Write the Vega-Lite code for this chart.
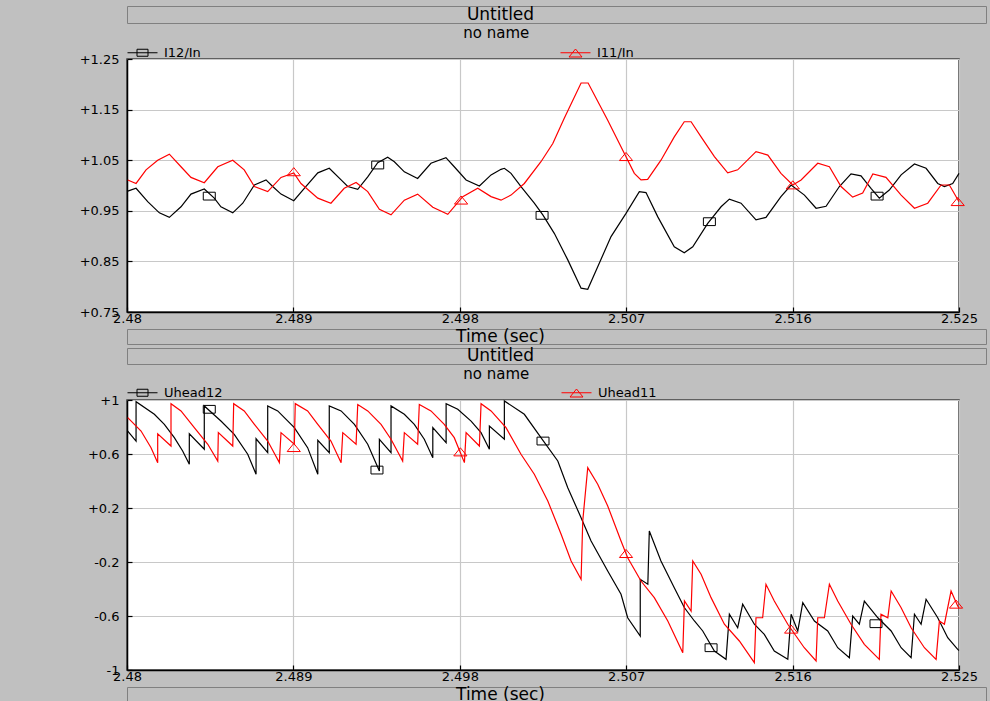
{
  "$schema": "https://vega.github.io/schema/vega-lite/v6.json",
  "background": "#c0c0c0",
  "padding": {"left": 14, "top": 5, "right": 3, "bottom": 0},
  "spacing": 1,
  "datasets": {
    "current": [
      {"t": 2.48004, "v": 0.989, "s": "I12/In"}, {"t": 2.48049, "v": 0.9945, "s": "I12/In"}, {"t": 2.48112, "v": 0.968, "s": "I12/In"},
      {"t": 2.48175, "v": 0.946, "s": "I12/In"}, {"t": 2.48229, "v": 0.937, "s": "I12/In"}, {"t": 2.48292, "v": 0.958, "s": "I12/In"},
      {"t": 2.48346, "v": 0.983, "s": "I12/In"}, {"t": 2.48418, "v": 0.993, "s": "I12/In"}, {"t": 2.48472, "v": 0.975, "s": "I12/In"},
      {"t": 2.48508, "v": 0.958, "s": "I12/In"}, {"t": 2.48572, "v": 0.946, "s": "I12/In"}, {"t": 2.48626, "v": 0.965, "s": "I12/In"},
      {"t": 2.48689, "v": 1.001, "s": "I12/In"}, {"t": 2.48752, "v": 1.011, "s": "I12/In"}, {"t": 2.48788, "v": 0.998, "s": "I12/In"},
      {"t": 2.48833, "v": 0.983, "s": "I12/In"}, {"t": 2.48902, "v": 0.970, "s": "I12/In"}, {"t": 2.48959, "v": 0.9945, "s": "I12/In"},
      {"t": 2.49032, "v": 1.025, "s": "I12/In"}, {"t": 2.49094, "v": 1.034, "s": "I12/In"}, {"t": 2.49158, "v": 1.011, "s": "I12/In"},
      {"t": 2.49194, "v": 0.998, "s": "I12/In"}, {"t": 2.49248, "v": 0.9925, "s": "I12/In"}, {"t": 2.49302, "v": 1.017, "s": "I12/In"},
      {"t": 2.49356, "v": 1.045, "s": "I12/In"}, {"t": 2.49410, "v": 1.056, "s": "I12/In"}, {"t": 2.49446, "v": 1.047, "s": "I12/In"},
      {"t": 2.49500, "v": 1.027, "s": "I12/In"}, {"t": 2.49572, "v": 1.014, "s": "I12/In"}, {"t": 2.49644, "v": 1.044, "s": "I12/In"},
      {"t": 2.49725, "v": 1.055, "s": "I12/In"}, {"t": 2.49770, "v": 1.037, "s": "I12/In"}, {"t": 2.49834, "v": 1.011, "s": "I12/In"},
      {"t": 2.49906, "v": 0.999, "s": "I12/In"}, {"t": 2.49969, "v": 1.021, "s": "I12/In"}, {"t": 2.50023, "v": 1.032, "s": "I12/In"},
      {"t": 2.50041, "v": 1.034, "s": "I12/In"}, {"t": 2.50077, "v": 1.024, "s": "I12/In"}, {"t": 2.50131, "v": 0.998, "s": "I12/In"},
      {"t": 2.50203, "v": 0.965, "s": "I12/In"}, {"t": 2.50249, "v": 0.942, "s": "I12/In"}, {"t": 2.50311, "v": 0.9055, "s": "I12/In"},
      {"t": 2.50384, "v": 0.853, "s": "I12/In"}, {"t": 2.50456, "v": 0.797, "s": "I12/In"}, {"t": 2.50492, "v": 0.795, "s": "I12/In"},
      {"t": 2.50546, "v": 0.8395, "s": "I12/In"}, {"t": 2.50618, "v": 0.899, "s": "I12/In"}, {"t": 2.50699, "v": 0.945, "s": "I12/In"},
      {"t": 2.50771, "v": 0.988, "s": "I12/In"}, {"t": 2.50807, "v": 0.986, "s": "I12/In"}, {"t": 2.50871, "v": 0.938, "s": "I12/In"},
      {"t": 2.50960, "v": 0.879, "s": "I12/In"}, {"t": 2.51014, "v": 0.867, "s": "I12/In"}, {"t": 2.51060, "v": 0.879, "s": "I12/In"},
      {"t": 2.51141, "v": 0.925, "s": "I12/In"}, {"t": 2.51213, "v": 0.958, "s": "I12/In"}, {"t": 2.51258, "v": 0.973, "s": "I12/In"},
      {"t": 2.51321, "v": 0.965, "s": "I12/In"}, {"t": 2.51402, "v": 0.932, "s": "I12/In"}, {"t": 2.51456, "v": 0.937, "s": "I12/In"},
      {"t": 2.51537, "v": 0.978, "s": "I12/In"}, {"t": 2.51592, "v": 1.001, "s": "I12/In"}, {"t": 2.51664, "v": 0.981, "s": "I12/In"},
      {"t": 2.51727, "v": 0.955, "s": "I12/In"}, {"t": 2.51781, "v": 0.959, "s": "I12/In"}, {"t": 2.51853, "v": 0.998, "s": "I12/In"},
      {"t": 2.51916, "v": 1.023, "s": "I12/In"}, {"t": 2.51970, "v": 1.019, "s": "I12/In"}, {"t": 2.52024, "v": 0.9945, "s": "I12/In"},
      {"t": 2.52069, "v": 0.975, "s": "I12/In"}, {"t": 2.52123, "v": 0.991, "s": "I12/In"}, {"t": 2.52187, "v": 1.021, "s": "I12/In"},
      {"t": 2.52259, "v": 1.0425, "s": "I12/In"}, {"t": 2.52322, "v": 1.034, "s": "I12/In"}, {"t": 2.52385, "v": 1.004, "s": "I12/In"},
      {"t": 2.52421, "v": 0.998, "s": "I12/In"}, {"t": 2.52466, "v": 1.004, "s": "I12/In"}, {"t": 2.52500, "v": 1.024, "s": "I12/In"},

      {"t": 2.48004, "v": 1.011, "s": "I11/In"}, {"t": 2.48049, "v": 1.004, "s": "I11/In"}, {"t": 2.48103, "v": 1.031, "s": "I11/In"},
      {"t": 2.48166, "v": 1.050, "s": "I11/In"}, {"t": 2.48229, "v": 1.062, "s": "I11/In"}, {"t": 2.48292, "v": 1.037, "s": "I11/In"},
      {"t": 2.48346, "v": 1.016, "s": "I11/In"}, {"t": 2.48418, "v": 1.0055, "s": "I11/In"}, {"t": 2.48491, "v": 1.037, "s": "I11/In"},
      {"t": 2.48572, "v": 1.050, "s": "I11/In"}, {"t": 2.48634, "v": 1.031, "s": "I11/In"}, {"t": 2.48689, "v": 0.998, "s": "I11/In"},
      {"t": 2.48761, "v": 0.988, "s": "I11/In"}, {"t": 2.48833, "v": 1.016, "s": "I11/In"}, {"t": 2.48902, "v": 1.025, "s": "I11/In"},
      {"t": 2.48941, "v": 1.004, "s": "I11/In"}, {"t": 2.49032, "v": 0.975, "s": "I11/In"}, {"t": 2.49103, "v": 0.965, "s": "I11/In"},
      {"t": 2.49175, "v": 0.9945, "s": "I11/In"}, {"t": 2.49239, "v": 1.006, "s": "I11/In"}, {"t": 2.49302, "v": 0.988, "s": "I11/In"},
      {"t": 2.49365, "v": 0.953, "s": "I11/In"}, {"t": 2.49428, "v": 0.942, "s": "I11/In"}, {"t": 2.49500, "v": 0.971, "s": "I11/In"},
      {"t": 2.49572, "v": 0.983, "s": "I11/In"}, {"t": 2.49654, "v": 0.957, "s": "I11/In"}, {"t": 2.49735, "v": 0.943, "s": "I11/In"},
      {"t": 2.49816, "v": 0.978, "s": "I11/In"}, {"t": 2.49897, "v": 0.9945, "s": "I11/In"}, {"t": 2.49969, "v": 0.978, "s": "I11/In"},
      {"t": 2.50023, "v": 0.971, "s": "I11/In"}, {"t": 2.50077, "v": 0.981, "s": "I11/In"}, {"t": 2.50149, "v": 1.004, "s": "I11/In"},
      {"t": 2.50239, "v": 1.047, "s": "I11/In"}, {"t": 2.50303, "v": 1.083, "s": "I11/In"}, {"t": 2.50365, "v": 1.133, "s": "I11/In"},
      {"t": 2.50456, "v": 1.2026, "s": "I11/In"}, {"t": 2.50494, "v": 1.2026, "s": "I11/In"}, {"t": 2.50600, "v": 1.129, "s": "I11/In"},
      {"t": 2.50663, "v": 1.083, "s": "I11/In"}, {"t": 2.50699, "v": 1.057, "s": "I11/In"}, {"t": 2.50744, "v": 1.024, "s": "I11/In"},
      {"t": 2.50780, "v": 1.011, "s": "I11/In"}, {"t": 2.50816, "v": 1.012, "s": "I11/In"}, {"t": 2.50888, "v": 1.050, "s": "I11/In"},
      {"t": 2.50960, "v": 1.096, "s": "I11/In"}, {"t": 2.51014, "v": 1.126, "s": "I11/In"}, {"t": 2.51051, "v": 1.126, "s": "I11/In"},
      {"t": 2.51105, "v": 1.096, "s": "I11/In"}, {"t": 2.51177, "v": 1.057, "s": "I11/In"}, {"t": 2.51249, "v": 1.025, "s": "I11/In"},
      {"t": 2.51303, "v": 1.031, "s": "I11/In"}, {"t": 2.51402, "v": 1.067, "s": "I11/In"}, {"t": 2.51466, "v": 1.060, "s": "I11/In"},
      {"t": 2.51537, "v": 1.024, "s": "I11/In"}, {"t": 2.51601, "v": 1.001, "s": "I11/In"}, {"t": 2.51646, "v": 1.011, "s": "I11/In"},
      {"t": 2.51736, "v": 1.044, "s": "I11/In"}, {"t": 2.51799, "v": 1.037, "s": "I11/In"}, {"t": 2.51862, "v": 0.998, "s": "I11/In"},
      {"t": 2.51925, "v": 0.977, "s": "I11/In"}, {"t": 2.51979, "v": 0.985, "s": "I11/In"}, {"t": 2.52034, "v": 1.023, "s": "I11/In"},
      {"t": 2.52105, "v": 1.016, "s": "I11/In"}, {"t": 2.52187, "v": 0.981, "s": "I11/In"}, {"t": 2.52259, "v": 0.955, "s": "I11/In"},
      {"t": 2.52331, "v": 0.965, "s": "I11/In"}, {"t": 2.52403, "v": 1.001, "s": "I11/In"}, {"t": 2.52448, "v": 1.001, "s": "I11/In"},
      {"t": 2.52500, "v": 0.968, "s": "I11/In"}
    ],
    "currentMarkers": [
      {"t": 2.48445, "v": 0.979, "s": "I12/In"}, {"t": 2.49356, "v": 1.0405, "s": "I12/In"}, {"t": 2.50245, "v": 0.941, "s": "I12/In"},
      {"t": 2.51150, "v": 0.9285, "s": "I12/In"}, {"t": 2.52057, "v": 0.979, "s": "I12/In"},
      {"t": 2.48902, "v": 1.027, "s": "I11/In"}, {"t": 2.49807, "v": 0.971, "s": "I11/In"}, {"t": 2.50699, "v": 1.057, "s": "I11/In"},
      {"t": 2.51601, "v": 1.001, "s": "I11/In"}, {"t": 2.52493, "v": 0.968, "s": "I11/In"}
    ],
    "voltage": [
      {"t": 2.48004, "v": 0.770, "s": "Uhead12"}, {"t": 2.48049, "v": 0.696, "s": "Uhead12"}, {"t": 2.48049, "v": 0.987, "s": "Uhead12"},
      {"t": 2.48148, "v": 0.894, "s": "Uhead12"}, {"t": 2.48202, "v": 0.820, "s": "Uhead12"}, {"t": 2.48256, "v": 0.721, "s": "Uhead12"},
      {"t": 2.48301, "v": 0.622, "s": "Uhead12"}, {"t": 2.48337, "v": 0.524, "s": "Uhead12"}, {"t": 2.48337, "v": 0.750, "s": "Uhead12"},
      {"t": 2.48418, "v": 0.635, "s": "Uhead12"}, {"t": 2.48418, "v": 0.956, "s": "Uhead12"}, {"t": 2.48508, "v": 0.844, "s": "Uhead12"},
      {"t": 2.48580, "v": 0.746, "s": "Uhead12"}, {"t": 2.48653, "v": 0.598, "s": "Uhead12"}, {"t": 2.48698, "v": 0.450, "s": "Uhead12"},
      {"t": 2.48698, "v": 0.713, "s": "Uhead12"}, {"t": 2.48761, "v": 0.610, "s": "Uhead12"}, {"t": 2.48761, "v": 0.956, "s": "Uhead12"},
      {"t": 2.48815, "v": 0.919, "s": "Uhead12"}, {"t": 2.48905, "v": 0.795, "s": "Uhead12"}, {"t": 2.48977, "v": 0.647, "s": "Uhead12"},
      {"t": 2.49032, "v": 0.450, "s": "Uhead12"}, {"t": 2.49032, "v": 0.701, "s": "Uhead12"}, {"t": 2.49094, "v": 0.610, "s": "Uhead12"},
      {"t": 2.49094, "v": 0.956, "s": "Uhead12"}, {"t": 2.49158, "v": 0.919, "s": "Uhead12"}, {"t": 2.49230, "v": 0.820, "s": "Uhead12"},
      {"t": 2.49302, "v": 0.672, "s": "Uhead12"}, {"t": 2.49365, "v": 0.474, "s": "Uhead12"}, {"t": 2.49365, "v": 0.709, "s": "Uhead12"},
      {"t": 2.49428, "v": 0.610, "s": "Uhead12"}, {"t": 2.49428, "v": 0.956, "s": "Uhead12"}, {"t": 2.49500, "v": 0.894, "s": "Uhead12"},
      {"t": 2.49554, "v": 0.820, "s": "Uhead12"}, {"t": 2.49608, "v": 0.709, "s": "Uhead12"}, {"t": 2.49654, "v": 0.573, "s": "Uhead12"},
      {"t": 2.49654, "v": 0.795, "s": "Uhead12"}, {"t": 2.49726, "v": 0.684, "s": "Uhead12"}, {"t": 2.49726, "v": 0.973, "s": "Uhead12"},
      {"t": 2.49789, "v": 0.931, "s": "Uhead12"}, {"t": 2.49861, "v": 0.844, "s": "Uhead12"}, {"t": 2.49915, "v": 0.758, "s": "Uhead12"},
      {"t": 2.49960, "v": 0.635, "s": "Uhead12"}, {"t": 2.49960, "v": 0.807, "s": "Uhead12"}, {"t": 2.50041, "v": 0.709, "s": "Uhead12"},
      {"t": 2.50041, "v": 0.993, "s": "Uhead12"}, {"t": 2.50149, "v": 0.894, "s": "Uhead12"}, {"t": 2.50239, "v": 0.721, "s": "Uhead12"},
      {"t": 2.50330, "v": 0.548, "s": "Uhead12"}, {"t": 2.50384, "v": 0.350, "s": "Uhead12"}, {"t": 2.50456, "v": 0.128, "s": "Uhead12"},
      {"t": 2.50510, "v": -0.044, "s": "Uhead12"}, {"t": 2.50600, "v": -0.267, "s": "Uhead12"}, {"t": 2.50672, "v": -0.439, "s": "Uhead12"},
      {"t": 2.50708, "v": -0.613, "s": "Uhead12"}, {"t": 2.50776, "v": -0.748, "s": "Uhead12"}, {"t": 2.50776, "v": -0.328, "s": "Uhead12"},
      {"t": 2.50817, "v": -0.365, "s": "Uhead12"}, {"t": 2.50825, "v": 0.030, "s": "Uhead12"}, {"t": 2.50888, "v": -0.193, "s": "Uhead12"},
      {"t": 2.50960, "v": -0.390, "s": "Uhead12"}, {"t": 2.51015, "v": -0.539, "s": "Uhead12"}, {"t": 2.51069, "v": -0.637, "s": "Uhead12"},
      {"t": 2.51114, "v": -0.711, "s": "Uhead12"}, {"t": 2.51177, "v": -0.859, "s": "Uhead12"}, {"t": 2.51240, "v": -0.921, "s": "Uhead12"},
      {"t": 2.51258, "v": -0.587, "s": "Uhead12"}, {"t": 2.51303, "v": -0.687, "s": "Uhead12"}, {"t": 2.51330, "v": -0.513, "s": "Uhead12"},
      {"t": 2.51393, "v": -0.661, "s": "Uhead12"}, {"t": 2.51447, "v": -0.736, "s": "Uhead12"}, {"t": 2.51501, "v": -0.859, "s": "Uhead12"},
      {"t": 2.51574, "v": -0.921, "s": "Uhead12"}, {"t": 2.51592, "v": -0.587, "s": "Uhead12"}, {"t": 2.51628, "v": -0.711, "s": "Uhead12"},
      {"t": 2.51655, "v": -0.501, "s": "Uhead12"}, {"t": 2.51718, "v": -0.637, "s": "Uhead12"}, {"t": 2.51790, "v": -0.711, "s": "Uhead12"},
      {"t": 2.51844, "v": -0.835, "s": "Uhead12"}, {"t": 2.51907, "v": -0.909, "s": "Uhead12"}, {"t": 2.51925, "v": -0.600, "s": "Uhead12"},
      {"t": 2.51961, "v": -0.661, "s": "Uhead12"}, {"t": 2.51988, "v": -0.489, "s": "Uhead12"}, {"t": 2.52061, "v": -0.613, "s": "Uhead12"},
      {"t": 2.52133, "v": -0.711, "s": "Uhead12"}, {"t": 2.52187, "v": -0.835, "s": "Uhead12"}, {"t": 2.52241, "v": -0.909, "s": "Uhead12"},
      {"t": 2.52259, "v": -0.587, "s": "Uhead12"}, {"t": 2.52295, "v": -0.661, "s": "Uhead12"}, {"t": 2.52322, "v": -0.476, "s": "Uhead12"},
      {"t": 2.52385, "v": -0.613, "s": "Uhead12"}, {"t": 2.52439, "v": -0.761, "s": "Uhead12"}, {"t": 2.52493, "v": -0.847, "s": "Uhead12"},
      {"t": 2.52500, "v": -0.855, "s": "Uhead12"},

      {"t": 2.48004, "v": 0.869, "s": "Uhead11"}, {"t": 2.48076, "v": 0.770, "s": "Uhead11"}, {"t": 2.48130, "v": 0.647, "s": "Uhead11"},
      {"t": 2.48166, "v": 0.536, "s": "Uhead11"}, {"t": 2.48166, "v": 0.750, "s": "Uhead11"}, {"t": 2.48238, "v": 0.659, "s": "Uhead11"},
      {"t": 2.48238, "v": 0.973, "s": "Uhead11"}, {"t": 2.48292, "v": 0.919, "s": "Uhead11"}, {"t": 2.48364, "v": 0.795, "s": "Uhead11"},
      {"t": 2.48437, "v": 0.672, "s": "Uhead11"}, {"t": 2.48491, "v": 0.548, "s": "Uhead11"}, {"t": 2.48494, "v": 0.758, "s": "Uhead11"},
      {"t": 2.48572, "v": 0.659, "s": "Uhead11"}, {"t": 2.48577, "v": 0.973, "s": "Uhead11"}, {"t": 2.48634, "v": 0.919, "s": "Uhead11"},
      {"t": 2.48689, "v": 0.820, "s": "Uhead11"}, {"t": 2.48761, "v": 0.696, "s": "Uhead11"}, {"t": 2.48824, "v": 0.536, "s": "Uhead11"},
      {"t": 2.48833, "v": 0.758, "s": "Uhead11"}, {"t": 2.48905, "v": 0.672, "s": "Uhead11"}, {"t": 2.48910, "v": 0.973, "s": "Uhead11"},
      {"t": 2.48977, "v": 0.919, "s": "Uhead11"}, {"t": 2.49032, "v": 0.820, "s": "Uhead11"}, {"t": 2.49103, "v": 0.696, "s": "Uhead11"},
      {"t": 2.49158, "v": 0.536, "s": "Uhead11"}, {"t": 2.49167, "v": 0.758, "s": "Uhead11"}, {"t": 2.49239, "v": 0.672, "s": "Uhead11"},
      {"t": 2.49248, "v": 0.967, "s": "Uhead11"}, {"t": 2.49302, "v": 0.919, "s": "Uhead11"}, {"t": 2.49374, "v": 0.820, "s": "Uhead11"},
      {"t": 2.49428, "v": 0.709, "s": "Uhead11"}, {"t": 2.49491, "v": 0.548, "s": "Uhead11"}, {"t": 2.49500, "v": 0.758, "s": "Uhead11"},
      {"t": 2.49572, "v": 0.672, "s": "Uhead11"}, {"t": 2.49581, "v": 0.967, "s": "Uhead11"}, {"t": 2.49644, "v": 0.919, "s": "Uhead11"},
      {"t": 2.49716, "v": 0.820, "s": "Uhead11"}, {"t": 2.49770, "v": 0.721, "s": "Uhead11"}, {"t": 2.49825, "v": 0.536, "s": "Uhead11"},
      {"t": 2.49834, "v": 0.758, "s": "Uhead11"}, {"t": 2.49906, "v": 0.659, "s": "Uhead11"}, {"t": 2.49915, "v": 0.973, "s": "Uhead11"},
      {"t": 2.49969, "v": 0.919, "s": "Uhead11"}, {"t": 2.50050, "v": 0.795, "s": "Uhead11"}, {"t": 2.50131, "v": 0.598, "s": "Uhead11"},
      {"t": 2.50203, "v": 0.450, "s": "Uhead11"}, {"t": 2.50276, "v": 0.252, "s": "Uhead11"}, {"t": 2.50348, "v": 0.005, "s": "Uhead11"},
      {"t": 2.50402, "v": -0.193, "s": "Uhead11"}, {"t": 2.50456, "v": -0.328, "s": "Uhead11"}, {"t": 2.50465, "v": 0.104, "s": "Uhead11"},
      {"t": 2.50492, "v": 0.499, "s": "Uhead11"}, {"t": 2.50546, "v": 0.376, "s": "Uhead11"}, {"t": 2.50600, "v": 0.215, "s": "Uhead11"},
      {"t": 2.50672, "v": -0.044, "s": "Uhead11"}, {"t": 2.50708, "v": -0.168, "s": "Uhead11"}, {"t": 2.50780, "v": -0.341, "s": "Uhead11"},
      {"t": 2.50852, "v": -0.464, "s": "Uhead11"}, {"t": 2.50925, "v": -0.637, "s": "Uhead11"}, {"t": 2.51006, "v": -0.872, "s": "Uhead11"},
      {"t": 2.51015, "v": -0.489, "s": "Uhead11"}, {"t": 2.51051, "v": -0.563, "s": "Uhead11"}, {"t": 2.51060, "v": -0.193, "s": "Uhead11"},
      {"t": 2.51105, "v": -0.291, "s": "Uhead11"}, {"t": 2.51159, "v": -0.464, "s": "Uhead11"}, {"t": 2.51231, "v": -0.661, "s": "Uhead11"},
      {"t": 2.51312, "v": -0.785, "s": "Uhead11"}, {"t": 2.51393, "v": -0.946, "s": "Uhead11"}, {"t": 2.51402, "v": -0.613, "s": "Uhead11"},
      {"t": 2.51438, "v": -0.613, "s": "Uhead11"}, {"t": 2.51456, "v": -0.365, "s": "Uhead11"}, {"t": 2.51501, "v": -0.489, "s": "Uhead11"},
      {"t": 2.51574, "v": -0.661, "s": "Uhead11"}, {"t": 2.51663, "v": -0.835, "s": "Uhead11"}, {"t": 2.51727, "v": -0.933, "s": "Uhead11"},
      {"t": 2.51736, "v": -0.613, "s": "Uhead11"}, {"t": 2.51772, "v": -0.613, "s": "Uhead11"}, {"t": 2.51799, "v": -0.365, "s": "Uhead11"},
      {"t": 2.51844, "v": -0.489, "s": "Uhead11"}, {"t": 2.51916, "v": -0.661, "s": "Uhead11"}, {"t": 2.51988, "v": -0.810, "s": "Uhead11"},
      {"t": 2.52069, "v": -0.921, "s": "Uhead11"}, {"t": 2.52078, "v": -0.587, "s": "Uhead11"}, {"t": 2.52115, "v": -0.613, "s": "Uhead11"},
      {"t": 2.52133, "v": -0.415, "s": "Uhead11"}, {"t": 2.52187, "v": -0.539, "s": "Uhead11"}, {"t": 2.52241, "v": -0.687, "s": "Uhead11"},
      {"t": 2.52313, "v": -0.835, "s": "Uhead11"}, {"t": 2.52376, "v": -0.921, "s": "Uhead11"}, {"t": 2.52394, "v": -0.637, "s": "Uhead11"},
      {"t": 2.52421, "v": -0.661, "s": "Uhead11"}, {"t": 2.52457, "v": -0.415, "s": "Uhead11"}, {"t": 2.52493, "v": -0.526, "s": "Uhead11"},
      {"t": 2.52500, "v": -0.540, "s": "Uhead11"}
    ],
    "voltageMarkers": [
      {"t": 2.48445, "v": 0.931, "s": "Uhead12"}, {"t": 2.49352, "v": 0.481, "s": "Uhead12"}, {"t": 2.50250, "v": 0.696, "s": "Uhead12"},
      {"t": 2.51159, "v": -0.835, "s": "Uhead12"}, {"t": 2.52051, "v": -0.657, "s": "Uhead12"},
      {"t": 2.48902, "v": 0.647, "s": "Uhead11"}, {"t": 2.49803, "v": 0.615, "s": "Uhead11"}, {"t": 2.50699, "v": -0.138, "s": "Uhead11"},
      {"t": 2.51592, "v": -0.698, "s": "Uhead11"}, {"t": 2.52484, "v": -0.513, "s": "Uhead11"}
    ]
  },
  "resolve": {
    "scale": {"color": "independent", "x": "independent", "y": "independent"},
    "legend": {"color": "independent"}
  },
  "config": {
    "font": "DejaVu Sans",
    "axis": {
      "labelFont": "DejaVu Sans",
      "labelFontSize": 13,
      "labelColor": "#000000",
      "labelFlush": false,
      "labelOverlap": false,
      "grid": true,
      "gridColor": "#c8c8c8",
      "gridWidth": 1.2,
      "domainColor": "#000000",
      "domainWidth": 1.5,
      "tickColor": "#000000",
      "tickWidth": 1.2,
      "tickSize": -5
    },
    "legend": {
      "labelFont": "DejaVu Sans",
      "labelFontSize": 13,
      "labelColor": "#000000",
      "symbolSize": 100,
      "symbolStrokeWidth": 1,
      "symbolOffset": 9,
      "labelOffset": 15,
      "symbolType": "M-3,0H3M-1.1,-0.7H1.1V0.7H-1.1Z"
    },
    "title": {"font": "DejaVu Sans", "fontSize": 15, "fontWeight": "normal", "color": "#000000"},
    "text": {"font": "DejaVu Sans", "fontSize": 17, "color": "#000000", "dx": -56}
  },
  "vconcat": [
    {
      "data": {"values": [{"label": "Untitled"}]},
      "width": 859,
      "height": 17,
      "view": {"fill": "#c0c0c0", "stroke": "#808080", "strokeWidth": 1},
      "mark": {"type": "text"},
      "encoding": {"text": {"field": "label", "type": "nominal"}}
    },
    {
      "width": 832,
      "height": 253,
      "view": {"fill": "#ffffff", "stroke": "#404040", "strokeWidth": 1.5},
      "title": {"text": "no name", "anchor": "middle", "frame": "bounds", "offset": 5},
      "encoding": {
        "x": {
          "field": "t", "type": "quantitative",
          "scale": {"domain": [2.48, 2.525], "nice": false, "zero": false},
          "axis": {"title": null, "values": [2.48, 2.489, 2.498, 2.507, 2.516, 2.525], "format": ".3~f", "labelPadding": 5}
        },
        "y": {
          "field": "v", "type": "quantitative",
          "scale": {"domain": [0.75, 1.25], "nice": false, "zero": false},
          "axis": {
            "title": null, "values": [0.75, 0.85, 0.95, 1.05, 1.15, 1.25],
            "labelExpr": "'+' + format(datum.value, '.2f')",
            "labelPadding": 13, "minExtent": 112, "maxExtent": 112
          }
        },
        "color": {
          "field": "s", "type": "nominal",
          "scale": {"domain": ["I12/In", "I11/In"], "range": ["#000000", "#ff0000"]},
          "legend": {
            "title": null, "orient": "top", "direction": "horizontal", "offset": -1,
            "columnPadding": 357,
            "encode": {"symbols": {"update": {
              "shape": {"signal": "datum.index === 0 ? 'M-3,0H3M-1.1,-0.7H1.1V0.7H-1.1Z' : 'M-3,0H3M0,-0.75L1.3,0.85H-1.3Z'"},
              "fill": {"value": "transparent"},
              "strokeWidth": {"value": 1},
              "opacity": {"value": 1}
            }}}
          }
        }
      },
      "layer": [
        {
          "data": {"name": "current"},
          "mark": {"type": "line", "strokeWidth": 1.2},
          "encoding": {"order": {"value": null}}
        },
        {
          "data": {"name": "currentMarkers"},
          "transform": [{"filter": "datum.s === 'I12/In'"}],
          "mark": {"type": "point", "shape": "M-1,-0.65H1V0.65H-1Z", "filled": false, "size": 144, "strokeWidth": 1, "opacity": 1}
        },
        {
          "data": {"name": "currentMarkers"},
          "transform": [{"filter": "datum.s === 'I11/In'"}],
          "mark": {"type": "point", "shape": "M0,-0.7L1.1,0.65H-1.1Z", "filled": false, "size": 144, "strokeWidth": 1, "opacity": 1}
        }
      ]
    },
    {
      "data": {"values": [{"label": "Time (sec)"}]},
      "width": 859,
      "height": 15,
      "view": {"fill": "#c0c0c0", "stroke": "#808080", "strokeWidth": 1},
      "mark": {"type": "text"},
      "encoding": {"text": {"field": "label", "type": "nominal"}}
    },
    {
      "data": {"values": [{"label": "Untitled"}]},
      "width": 859,
      "height": 16,
      "view": {"fill": "#c0c0c0", "stroke": "#808080", "strokeWidth": 1},
      "mark": {"type": "text"},
      "encoding": {"text": {"field": "label", "type": "nominal"}}
    },
    {
      "width": 832,
      "height": 270,
      "view": {"fill": "#ffffff", "stroke": "#404040", "strokeWidth": 1.5},
      "title": {"text": "no name", "anchor": "middle", "frame": "bounds", "offset": 4},
      "encoding": {
        "x": {
          "field": "t", "type": "quantitative",
          "scale": {"domain": [2.48, 2.525], "nice": false, "zero": false},
          "axis": {"title": null, "values": [2.48, 2.489, 2.498, 2.507, 2.516, 2.525], "format": ".3~f", "labelPadding": 5}
        },
        "y": {
          "field": "v", "type": "quantitative",
          "scale": {"domain": [-1, 1], "nice": false, "zero": false},
          "axis": {
            "title": null, "values": [-1, -0.6, -0.2, 0.2, 0.6, 1],
            "labelExpr": "(datum.value > 0 ? '+' : '-') + format(abs(datum.value), '~g')",
            "labelPadding": 13, "minExtent": 112, "maxExtent": 112
          }
        },
        "color": {
          "field": "s", "type": "nominal",
          "scale": {"domain": ["Uhead12", "Uhead11"], "range": ["#000000", "#ff0000"]},
          "legend": {
            "title": null, "orient": "top", "direction": "horizontal", "offset": -2,
            "columnPadding": 336,
            "encode": {"symbols": {"update": {
              "shape": {"signal": "datum.index === 0 ? 'M-3,0H3M-1.1,-0.7H1.1V0.7H-1.1Z' : 'M-3,0H3M0,-0.75L1.3,0.85H-1.3Z'"},
              "fill": {"value": "transparent"},
              "strokeWidth": {"value": 1},
              "opacity": {"value": 1}
            }}}
          }
        }
      },
      "layer": [
        {
          "data": {"name": "voltage"},
          "mark": {"type": "line", "strokeWidth": 1.2},
          "encoding": {"order": {"value": null}}
        },
        {
          "data": {"name": "voltageMarkers"},
          "transform": [{"filter": "datum.s === 'Uhead12'"}],
          "mark": {"type": "point", "shape": "M-1,-0.65H1V0.65H-1Z", "filled": false, "size": 144, "strokeWidth": 1, "opacity": 1}
        },
        {
          "data": {"name": "voltageMarkers"},
          "transform": [{"filter": "datum.s === 'Uhead11'"}],
          "mark": {"type": "point", "shape": "M0,-0.7L1.1,0.65H-1.1Z", "filled": false, "size": 144, "strokeWidth": 1, "opacity": 1}
        }
      ]
    },
    {
      "data": {"values": [{"label": "Time (sec)"}]},
      "width": 859,
      "height": 16,
      "view": {"fill": "#c0c0c0", "stroke": "#808080", "strokeWidth": 1},
      "mark": {"type": "text"},
      "encoding": {"text": {"field": "label", "type": "nominal"}}
    }
  ]
}
